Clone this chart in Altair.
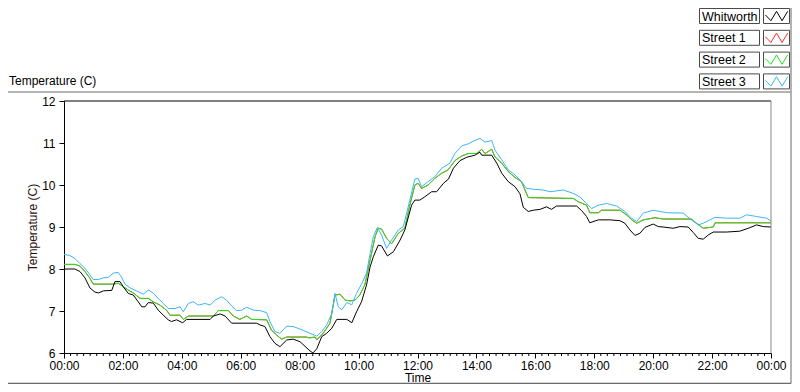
import altair as alt
import pandas as pd

FONT = "Liberation Sans"

series_names = ["Whitworth", "Street 1", "Street 2", "Street 3"]
series_colors = ["#000000", "#ff2a2a", "#1ee61e", "#3cb6f5"]

whitworth_hours = [0, 0.37, 0.54, 0.71, 0.88, 1.05, 1.17, 1.34, 1.62, 1.73, 1.90, 2.01, 2.18, 2.35, 2.52, 2.64,
                   2.75, 2.86, 3.03, 3.20, 3.37, 3.54, 3.65, 3.82, 4.03, 4.16, 4.96, 5.07, 5.30, 5.47, 5.69, 6.54,
                   6.65, 6.82, 6.99, 7.16, 7.33, 7.56, 7.78, 8.01, 8.35, 8.45, 8.58, 8.75, 8.92, 9.09, 9.26, 9.60,
                   9.77, 9.93, 10.10, 10.27, 10.39, 10.50, 10.67, 10.78, 10.98, 11.18, 11.41, 11.57, 11.80, 11.91,
                   12.08, 12.25, 12.48, 12.65, 12.88, 13.05, 13.22, 13.44, 13.67, 13.95, 14.12, 14.18, 14.52, 14.69,
                   14.86, 15.08, 15.31, 15.48, 15.59, 15.76, 15.93, 16.16, 16.38, 16.55, 16.72, 17.40, 17.57, 17.74,
                   17.85, 18.14, 18.53, 18.87, 19.04, 19.21, 19.38, 19.55, 19.72, 20.00, 20.17, 20.34, 20.68, 20.91,
                   21.19, 21.36, 21.53, 21.70, 21.87, 22.04, 22.49, 22.94, 23.23, 23.51, 23.74, 24.0]
whitworth_temp = [8.0, 8.0, 7.94, 7.79, 7.55, 7.45, 7.43, 7.48, 7.49, 7.70, 7.70, 7.58, 7.42, 7.38, 7.22, 7.10,
                  7.10, 7.20, 7.19, 7.02, 6.90, 6.79, 6.75, 6.79, 6.72, 6.80, 6.80, 6.88, 6.93, 6.88, 6.71, 6.71,
                  6.67, 6.63, 6.39, 6.23, 6.15, 6.31, 6.33, 6.27, 6.05, 6.0, 6.10, 6.39, 6.47, 6.59, 6.80, 6.80,
                  6.72, 6.98, 7.22, 7.62, 8.05, 8.29, 8.57, 8.55, 8.31, 8.41, 8.69, 8.93, 9.52, 9.64,
                  9.64, 9.72, 9.84, 9.84, 10.04, 10.14, 10.40, 10.58, 10.66, 10.71, 10.78, 10.71, 10.71, 10.52,
                  10.28, 10.08, 9.96, 9.79, 9.47, 9.37, 9.40, 9.42, 9.48, 9.42, 9.50, 9.50, 9.39, 9.25,
                  9.10, 9.17, 9.17, 9.15, 9.09, 8.93, 8.80, 8.85, 8.99, 9.07, 9.01, 9.0, 8.97, 9.01,
                  9.0, 8.87, 8.73, 8.71, 8.81, 8.88, 8.88, 8.90, 8.97, 9.05, 9.01, 9.0]

street2_hours = [0, 0.37, 0.54, 0.71, 0.88, 0.99, 1.67, 1.84, 2.01, 2.18, 2.35, 2.58, 2.86, 3.03, 3.26, 3.48,
                 3.60, 3.94, 4.05, 4.22, 5.07, 5.24, 5.58, 5.75, 5.97, 6.20, 6.37, 6.88, 7.04, 7.21, 7.39, 7.56,
                 8.22, 8.33, 8.52, 8.58, 8.80, 9.03, 9.20, 9.37, 9.54, 9.71, 9.88, 10.04, 10.21, 10.39, 10.56,
                 10.67, 10.78, 10.95, 11.12, 11.35, 11.57, 11.74, 11.91, 12.02, 12.14, 12.36, 12.59, 12.82, 13.04,
                 13.27, 13.50, 13.72, 14.01, 14.18, 14.29, 14.52, 14.63, 14.86, 15.08, 15.31, 15.53, 15.76, 17.29,
                 17.46, 17.74, 17.85, 18.14, 18.25, 18.87, 19.10, 19.27, 19.44, 19.66, 20.06, 20.34, 21.30, 21.47,
                 21.70, 22.04, 22.10, 24.0]
street2_temp = [8.11, 8.11, 8.07, 7.94, 7.78, 7.64, 7.64, 7.66, 7.58, 7.50, 7.43, 7.30, 7.30, 7.22, 7.14, 7.02,
                6.90, 6.90, 6.80, 6.88, 6.88, 7.01, 7.01, 6.88, 6.80, 6.88, 6.80, 6.79, 6.55, 6.43, 6.33, 6.38,
                6.38, 6.36, 6.38, 6.31, 6.47, 6.71, 7.38, 7.40, 7.26, 7.24, 7.26, 7.38, 7.62, 8.21, 8.77,
                8.97, 8.95, 8.73, 8.60, 8.85, 8.97, 9.52, 10.0, 10.04, 9.92, 10.0, 10.16, 10.28, 10.36,
                10.58, 10.69, 10.75, 10.75, 10.85, 10.75, 10.85, 10.67, 10.52, 10.32, 10.18, 10.08, 9.70, 9.68,
                9.60, 9.52, 9.34, 9.34, 9.40, 9.40, 9.29, 9.17, 9.09, 9.17, 9.22, 9.19, 9.19, 9.09,
                8.97, 9.0, 9.10, 9.10]

# Street 1 is drawn first and is fully covered by Street 2 in the reference
street1_hours = list(street2_hours)
street1_temp = list(street2_temp)

street3_hours = [0, 0.2, 0.37, 0.54, 0.71, 0.88, 0.99, 1.17, 1.34, 1.50, 1.67, 1.84, 1.95, 2.07, 2.24, 2.46,
                 2.69, 2.86, 3.03, 3.20, 3.37, 3.54, 3.77, 3.94, 4.05, 4.22, 4.39, 4.56, 4.79, 4.96, 5.13, 5.35,
                 5.52, 5.69, 5.86, 6.03, 6.20, 6.43, 6.65, 6.88, 6.99, 7.16, 7.33, 7.56, 7.78, 8.01, 8.35, 8.58,
                 8.75, 8.92, 9.09, 9.20, 9.31, 9.43, 9.60, 9.77, 9.93, 10.10, 10.27, 10.39, 10.50, 10.64, 10.78,
                 10.95, 11.12, 11.35, 11.52, 11.74, 11.91, 12.02, 12.14, 12.36, 12.59, 12.82, 13.10, 13.27, 13.50,
                 13.72, 13.95, 14.12, 14.29, 14.52, 14.63, 14.86, 15.08, 15.31, 15.53, 15.70, 15.93, 16.27, 16.50,
                 16.95, 17.29, 17.52, 17.74, 17.91, 18.14, 18.42, 18.76, 19.04, 19.27, 19.44, 19.66, 20.00, 20.45,
                 21.02, 21.30, 21.53, 21.70, 22.10, 22.49, 22.94, 23.17, 23.51, 23.85, 24.0]
street3_temp = [8.35, 8.32, 8.25, 8.13, 8.02, 7.86, 7.75, 7.75, 7.79, 7.80, 7.90, 7.92, 7.81, 7.64, 7.55, 7.48,
                7.40, 7.50, 7.43, 7.30, 7.18, 7.06, 7.06, 7.10, 6.98, 7.18, 7.22, 7.14, 7.18, 7.14, 7.26, 7.34,
                7.26, 7.12, 7.01, 7.02, 7.09, 7.02, 7.01, 6.96, 6.75, 6.51, 6.47, 6.64, 6.63, 6.57, 6.47, 6.40,
                6.51, 6.67, 6.94, 7.42, 7.10, 7.03, 7.20, 7.15, 7.42, 7.64, 7.90, 8.37, 8.77, 8.99, 8.81,
                8.49, 8.69, 8.93, 9.01, 9.64, 10.14, 10.16, 9.96, 10.08, 10.20, 10.40, 10.52, 10.75, 10.93,
                10.98, 11.06, 11.11, 11.02, 11.06, 10.83, 10.60, 10.36, 10.24, 10.08, 9.92, 9.90, 9.88, 9.84,
                9.88, 9.80, 9.71, 9.56, 9.44, 9.52, 9.56, 9.50, 9.37, 9.21, 9.13, 9.33, 9.40, 9.34,
                9.33, 9.17, 9.05, 9.09, 9.23, 9.21, 9.21, 9.29, 9.25, 9.21, 9.14]

x_major_ticks = [0, 2, 4, 6, 8, 10, 12, 14, 16, 18, 20, 22, 24]
x_minor_ticks = [round(i * 2 / 9, 4) for i in range(0, 109) if i % 9 != 0]
y_ticks = [6, 7, 8, 9, 10, 11, 12]

frames = []
for name, hrs, tmp in [("Whitworth", whitworth_hours, whitworth_temp),
                       ("Street 1", street1_hours, street1_temp),
                       ("Street 2", street2_hours, street2_temp),
                       ("Street 3", street3_hours, street3_temp)]:
    frames.append(pd.DataFrame({"hours": hrs, "temp": tmp, "series": name}))
df = pd.concat(frames, ignore_index=True)

W, H = 707, 252
xscale = alt.Scale(domain=[0, 24], nice=False, zero=False)
yscale = alt.Scale(domain=[6, 12], nice=False, zero=False)

x_axis = alt.Axis(values=x_major_ticks, grid=False, tickSize=5, tickColor="#000", domainColor="#000",
                  labelExpr="datum.value == 24 ? '00:00' : (datum.value < 10 ? '0' + datum.value : '' + datum.value) + ':00'",
                  labelFont=FONT, labelFontSize=12, labelColor="#000", labelPadding=2, labelFlush=False,
                  labelOverlap=False,
                  title="Time", titleFont=FONT, titleFontSize=12, titleFontWeight="normal", titleColor="#000",
                  titleY=24.5, titleBaseline="middle", titleX=W / 2, titleAlign="center")
y_axis = alt.Axis(values=y_ticks, grid=False, tickSize=5, tickColor="#000", domainColor="#000",
                  labelFont=FONT, labelFontSize=12, labelColor="#000", labelPadding=4, labelFlush=False,
                  title="Temperature (C)", titleFont=FONT, titleFontSize=12, titleFontWeight="normal",
                  titleColor="#2a1010", titleAngle=270, titleX=-32, titleY=H / 2, titleAlign="center",
                  titleBaseline="middle")

draw_order = ["Street 1", "Street 2", "Street 3", "Whitworth"]
color_of = dict(zip(series_names, series_colors))

line_layers = []
for name in draw_order:
    line_layers.append(
        alt.Chart(df).transform_filter(alt.datum.series == name)
        .mark_line(color=color_of[name], strokeWidth=1, interpolate="linear")
        .encode(x=alt.X("hours:Q", scale=xscale, axis=x_axis),
                y=alt.Y("temp:Q", scale=yscale, axis=y_axis),
                order="hours:Q")
    )

top_rule = alt.Chart(pd.DataFrame({"temp": [12]})).mark_rule(color="#000", strokeWidth=1).encode(
    y=alt.Y("temp:Q", scale=yscale, axis=y_axis))
right_rule = alt.Chart(pd.DataFrame({"hours": [24]})).mark_rule(color="#8a8a8a", strokeWidth=1).encode(
    x=alt.X("hours:Q", scale=xscale, axis=x_axis))

minor = alt.Chart(pd.DataFrame({"hours": x_minor_ticks})).mark_rule(color="#000", strokeWidth=1).encode(
    x=alt.X("hours:Q", scale=xscale, axis=x_axis),
    y=alt.value(H), y2=alt.value(H + 3))

# outer frame decorations
frame_color = "#9a9a9a"
one = pd.DataFrame({"k": [0]})
frame_top = alt.Chart(one).mark_rule(color=frame_color, strokeWidth=1.5).encode(
    x=alt.value(-56), x2=alt.value(727), y=alt.value(-9))
frame_right = alt.Chart(one).mark_rule(color=frame_color, strokeWidth=1.5).encode(
    x=alt.value(727), y=alt.value(-93), y2=alt.value(282.5))
frame_bottom = alt.Chart(one).mark_rule(color="#6a6a6a", strokeWidth=1.5).encode(
    x=alt.value(-56), x2=alt.value(727), y=alt.value(282.5))

title_txt = alt.Chart(pd.DataFrame({"t": ["Temperature (C)"]})).mark_text(
    font=FONT, fontSize=12, align="left", baseline="middle", color="#000").encode(
    text="t:N", x=alt.value(-55), y=alt.value(-20))

# legend (label box + swatch box per series)
LEG_TOP = -92.5
LEG_STEP = 21.8
LEG_BOX_H = 15
zigzag = "M-1,-0.1L-0.5,0.42L0,-0.42L0.5,0.42L1,-0.42"
legend_layers = []
for i, name in enumerate(series_names):
    top = LEG_TOP + i * LEG_STEP
    row = pd.DataFrame({"series": [name]})
    legend_layers.append(alt.Chart(row).mark_rect(fill="white", stroke="#4a4a4a", strokeWidth=1).encode(
        x=alt.value(635.5), x2=alt.value(695.5), y=alt.value(top), y2=alt.value(top + LEG_BOX_H)))
    legend_layers.append(alt.Chart(row).mark_rect(fill="white", stroke="#4a4a4a", strokeWidth=1).encode(
        x=alt.value(699.5), x2=alt.value(725.5), y=alt.value(top), y2=alt.value(top + LEG_BOX_H)))
    legend_layers.append(alt.Chart(row).mark_text(font=FONT, fontSize=12.5, align="left", baseline="middle",
                                                  color="#000").encode(
        text="series:N", x=alt.value(638), y=alt.value(top + LEG_BOX_H / 2 + 0.5)))
    legend_layers.append(alt.Chart(row).mark_point(shape=zigzag, size=500, filled=False, strokeWidth=1,
                                                   color=series_colors[i], opacity=1).encode(
        x=alt.value(712.5), y=alt.value(top + LEG_BOX_H / 2)))

chart = alt.layer(*line_layers, top_rule, right_rule, minor, frame_top, frame_right, frame_bottom,
                  title_txt, *legend_layers).properties(
    width=W, height=H,
    autosize=alt.AutoSizeParams(type="none"),
    padding={"left": 56, "top": 93, "right": 21, "bottom": 31},
    background="white",
).configure_view(stroke=None)

chart.save("out.html", embed_options={"renderer": "svg", "actions": False})
